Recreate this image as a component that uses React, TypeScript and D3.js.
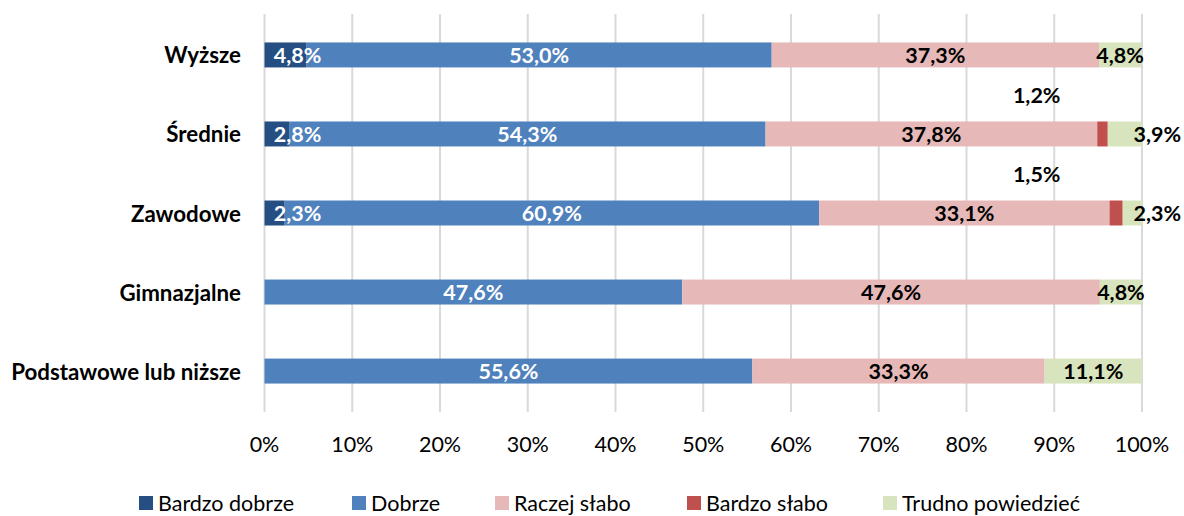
import React from 'react'
import * as d3 from 'd3'

const categories = ['Wyższe', 'Średnie', 'Zawodowe', 'Gimnazjalne', 'Podstawowe lub niższe']
const seriesNames = ['Bardzo dobrze', 'Dobrze', 'Raczej słabo', 'Bardzo słabo', 'Trudno powiedzieć']
const bardzoDobrze = [4.8, 2.8, 2.3, 0, 0]
const dobrze = [53.0, 54.3, 60.9, 47.6, 55.6]
const raczejSlabo = [37.3, 37.8, 33.1, 47.6, 33.3]
const bardzoSlabo = [0, 1.2, 1.5, 0, 0]
const trudno = [4.8, 3.9, 2.3, 4.8, 11.1]
const tickValues = [0, 10, 20, 30, 40, 50, 60, 70, 80, 90, 100]

const colors = ['#254f82', '#4f81bd', '#e6b9b8', '#c0504d', '#d7e4bd']
const labelColors = ['#ffffff', '#ffffff', '#000000', '#000000', '#000000']
const legendX = [139, 352, 495, 687, 883]

const width = 1184
const height = 516
const font = 'Lato, "Open Sans", sans-serif'
const fs = 21.5

const fmt = (v: number) => v.toFixed(1).replace('.', ',') + '%'

export default function App() {
  const series = [bardzoDobrze, dobrze, raczejSlabo, bardzoSlabo, trudno]
  const rows = categories.map((c, i) => {
    const row: Record<string, any> = { category: c }
    seriesNames.forEach((s, j) => { row[s] = series[j][i] })
    return row
  })
  const stacked = d3.stack<any>().keys(seriesNames)(rows)

  const x = d3.scaleLinear().domain([0, 100]).range([264.5, 1142])
  const y = d3.scaleBand<string>()
    .domain(categories)
    .range([14, 412])
    .paddingInner(0.684)
    .paddingOuter(0.36)
  const bw = y.bandwidth()

  // label placement follows the original chart: small end segments get pushed out
  const labelPos = (si: number, d: any) => {
    const v = d[1] - d[0]
    const cy = (y(d.data.category) as number) + bw / 2
    const cx = (x(d[0]) + x(d[1])) / 2
    if (si === 0) return { x: x(d[0]) + 33, y: cy, anchor: 'middle' }
    if (si === 3) return { x: x(88), y: cy - 39, anchor: 'middle' }
    if (si === 4 && v < 4.5) return { x: x(100) + 39, y: cy, anchor: 'end' }
    return { x: cx, y: cy, anchor: 'middle' }
  }

  return (
    <svg width={width} height={height} style={{ position: 'absolute', left: 0, top: 0, background: '#fff' }}>
      <g>
        {tickValues.map(t => (
          <line key={t} x1={x(t)} x2={x(t)} y1={14} y2={412} stroke="#d9d9d9" strokeWidth={2} />
        ))}
        {tickValues.map(t => (
          <text key={'t' + t} x={x(t)} y={444} textAnchor="middle" dominantBaseline="central"
            fontFamily={font} fontSize={fs} fill="#000">{t + '%'}</text>
        ))}
      </g>
      {categories.map(c => (
        <text key={c} x={241} y={(y(c) as number) + bw / 2} textAnchor="end" dominantBaseline="central"
          fontFamily={font} fontSize={22.3} fontWeight="bold" fill="#000">{c}</text>
      ))}
      {stacked.map((s, si) => (
        <g key={s.key}>
          {s.map((d: any) => (d[1] - d[0] > 0 ? (
            <rect key={d.data.category} x={x(d[0])} y={y(d.data.category)} width={x(d[1]) - x(d[0])}
              height={bw} fill={colors[si]} />
          ) : null))}
        </g>
      ))}
      {stacked.map((s, si) => (
        <g key={'l' + s.key}>
          {s.map((d: any) => {
            const v = d[1] - d[0]
            if (v <= 0) return null
            const p = labelPos(si, d)
            return (
              <text key={d.data.category} x={p.x} y={p.y} textAnchor={p.anchor} dominantBaseline="central"
                fontFamily={font} fontSize={fs} fontWeight="bold" fill={labelColors[si]}>
                {fmt(series[si][categories.indexOf(d.data.category)])}
              </text>
            )
          })}
        </g>
      ))}
      {seriesNames.map((n, i) => (
        <g key={n} transform={`translate(${legendX[i]},503)`}>
          <rect x={0} y={-7} width={14} height={14} fill={colors[i]} />
          <text x={19} y={0} dominantBaseline="central" fontFamily={font} fontSize={fs} fill="#000">{n}</text>
        </g>
      ))}
    </svg>
  )
}
